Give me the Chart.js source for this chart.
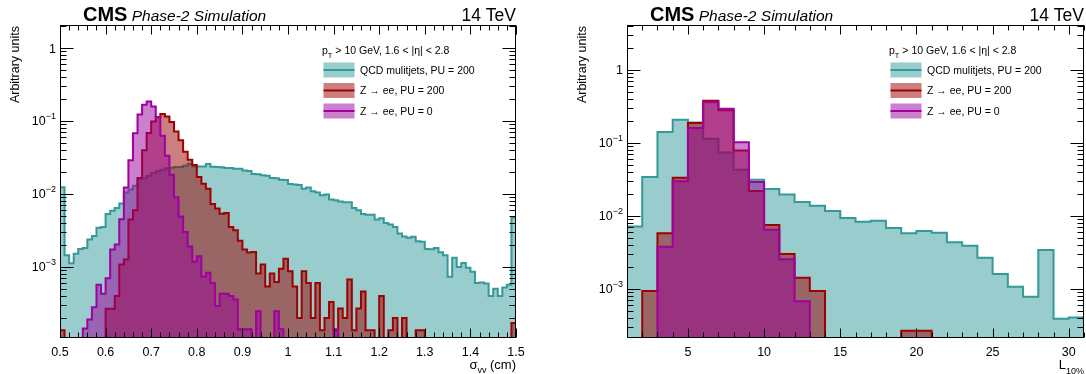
<!DOCTYPE html>
<html>
<head>
<meta charset="utf-8">
<script src="https://cdn.jsdelivr.net/npm/chart.js@4.4.1/dist/chart.umd.min.js"></script>
<style>
  html, body { margin: 0; padding: 0; background: #fff; }
  #wrap { position: relative; width: 1086px; height: 374px; }
  canvas { position: absolute; top: 0; }
</style>
</head>
<body>
<div id="wrap">
  <canvas id="sigmaChart" width="543" height="374" style="left:0"></canvas>
  <canvas id="l10Chart" width="543" height="374" style="left:543px"></canvas>
</div>
<script>
// sigma_vv: 100 bins from 0.5 to 1.5 cm
const sigmaRange = [0.5, 1.5];
const sigmaQCD = [
  0.0124, 0.00144, 0.00112, 0.00152, 0.00176, 0.00182, 0.00237, 0.00265, 0.00345, 0.00353,
  0.0053, 0.0059, 0.0064, 0.0074, 0.0105, 0.0115, 0.013, 0.016, 0.0166, 0.0178,
  0.0194, 0.0204, 0.0215, 0.0225, 0.0228, 0.0234, 0.0234, 0.0244, 0.026, 0.0238,
  0.0238, 0.0238, 0.0258, 0.0236, 0.0234, 0.0232, 0.0227, 0.0227, 0.0222, 0.0222,
  0.021, 0.0207, 0.0188, 0.0186, 0.018, 0.0177, 0.0166, 0.0164, 0.0157, 0.0155,
  0.0137, 0.0135, 0.0133, 0.0118, 0.0123, 0.0109, 0.0105, 0.0096, 0.0098, 0.0084,
  0.0082, 0.0079, 0.0077, 0.0077, 0.0064, 0.006, 0.0053, 0.0052, 0.0052, 0.00445,
  0.00463, 0.004, 0.0038, 0.00353, 0.00286, 0.00262, 0.0025, 0.00258, 0.00224, 0.00221,
  0.00176, 0.00174, 0.00182, 0.00159, 0.00144, 0.00073, 0.00133, 0.001, 0.00113, 0.00097,
  0.00086, 0.0006, 0.00061, 0.00059, 0.0004, 0.0005, 0.0004, 0.00052, 0.00057, 0.0047
];
const sigmaZee200 = [
  0.000135, 0, 0, 0, 0, 0, 0, 0, 0, 0,
  0.000266, 0.000266, 0.0004, 0.00108, 0.00126, 0.00445, 0.006, 0.0166, 0.0396, 0.0684,
  0.0988, 0.1135, 0.125, 0.1156, 0.0968, 0.072, 0.0545, 0.038, 0.0295, 0.025,
  0.0171, 0.0138, 0.0118, 0.0073, 0.0063, 0.00537, 0.0055, 0.00353, 0.00317, 0.00229,
  0.00173, 0.00158, 0.0016, 0.00081, 0.00108, 0.00054, 0.00081, 0.00062, 0.00094, 0.00129,
  0.00087, 0.00054, 0.0002, 0.00087, 0.0006, 0.0002, 0.0006, 0.000135, 0.0002, 0.00033,
  0.000135, 0.00027, 0.0002, 0.00067, 0.000135, 0.00027, 0.00046, 0.000135, 0.000135, 0,
  0.0004, 0, 0.000135, 0.0002, 0, 0.0002, 0, 0, 0.000135, 0.000135,
  0, 0, 0, 0, 0, 0, 0, 0, 0, 0,
  0, 0, 0, 0, 0, 0, 0, 0, 0, 0.00017
];
const sigmaZee0 = [
  0, 0, 0, 0, 0, 0.000143, 0.00019, 0.00028, 0.00057, 0.00043,
  0.0007, 0.00173, 0.00202, 0.0045, 0.0123, 0.029, 0.068, 0.123, 0.167, 0.185,
  0.158, 0.113, 0.063, 0.0335, 0.0184, 0.009, 0.0049, 0.003, 0.0019, 0.00118,
  0.0014, 0.00074, 0.00083, 0.0006, 0.00029, 0.00043, 0.00043, 0.0004, 0.000356, 0.00014,
  0.00014, 0.00014, 0, 0.000246, 0, 0, 0, 0.000246, 0.00014, 0,
  0, 0, 0, 0, 0, 0, 0, 0, 0, 0,
  0.00014, 0, 0, 0, 0, 0, 0, 0, 0, 0,
  0, 0, 0, 0, 0, 0, 0, 0, 0, 0,
  0, 0, 0, 0, 0, 0, 0, 0, 0, 0,
  0, 0, 0, 0, 0, 0, 0, 0, 0, 0
];
const sigmaTicks = [0.5, 0.6, 0.7, 0.8, 0.9, 1, 1.1, 1.2, 1.3, 1.4, 1.5];
const sigmaTickLabels = ['0.5', '0.6', '0.7', '0.8', '0.9', '1', '1.1', '1.2', '1.3', '1.4', '1.5'];

// L_10%: 30 bins from 1 to 31
const l10Range = [1, 31];
const l10QCD = [
  0.0072, 0.0342, 0.1415, 0.208, 0.191, 0.1146, 0.0743, 0.043, 0.0314, 0.0234,
  0.0197, 0.01556, 0.01384, 0.0117, 0.0094, 0.00836, 0.00863, 0.00685, 0.00578, 0.00623,
  0.0059, 0.00435, 0.00392, 0.00268, 0.0016, 0.00107, 0.000785, 0.00342, 0.000392, 0.000408
];
const l10Zee200 = [
  0, 0.00094, 0.00578, 0.0335, 0.188, 0.38, 0.28, 0.079, 0.022, 0.00753,
  0.00302, 0.00142, 0.00094, 0, 0, 0, 0, 0, 0.000268, 0.000268,
  0, 0, 0, 0, 0, 0, 0, 0, 0, 0
];
const l10Zee0 = [
  0, 0, 0.0038, 0.0298, 0.16, 0.36, 0.295, 0.102, 0.0292, 0.0065,
  0.00255, 0.00068, 0, 0, 0, 0, 0, 0, 0, 0,
  0, 0, 0, 0, 0, 0, 0, 0, 0, 0
];
const l10Ticks = [5, 10, 15, 20, 25, 30];
const l10TickLabels = ['5', '10', '15', '20', '25', '30'];

const yTicks = [1, 0.1, 0.01, 0.001];
const yTickLabels = [['1', ''], ['10', '\u22121'], ['10', '\u22122'], ['10', '\u22123']];

const seriesNames = ['QCD mulitjets, PU = 200', 'Z \u2192 ee, PU = 200', 'Z \u2192 ee, PU = 0'];
const TEAL = { line: '#339999', fill: 'rgba(51,153,153,0.5)' };
const RED = { line: '#a00000', fill: 'rgba(153,0,0,0.5)' };
const MAG = { line: '#a000a0', fill: 'rgba(153,0,153,0.5)' };
const FONT = '"Liberation Sans", Arial, Helvetica, sans-serif';

// bin contents -> step points at the lower bin edges (+ closing edge)
function histPoints(range, values, floor) {
  const w = (range[1] - range[0]) / values.length;
  const pts = values.map((v, i) => ({ x: range[0] + i * w, y: v > 0 ? v : floor }));
  pts.push({ x: range[1], y: pts[pts.length - 1].y });
  return pts;
}

function drawRich(ctx, parts, x, y, align) {
  let total = 0;
  parts.forEach(p => { ctx.font = p.font; p.w = ctx.measureText(p.t).width; total += p.w; });
  let cx = align === 'right' ? x - total : x;
  ctx.textAlign = 'left';
  parts.forEach(p => { ctx.font = p.font; ctx.fillText(p.t, cx, y + (p.dy || 0)); cx += p.w; });
}

const decor = {
  id: 'decor',
  afterDraw(chart, args, o) {
    const { ctx, chartArea: a, scales: { x, y } } = chart;
    const L = Math.round(a.left) + 0.5, R = Math.round(a.right) - 0.5;
    const T = Math.round(a.top) + 0.5, B = Math.round(a.bottom) - 0.5;
    ctx.save();
    ctx.strokeStyle = '#000';
    ctx.lineWidth = 1;
    ctx.beginPath();
    // x ticks, bottom and top
    const n = Math.round((o.xMax - o.xMin) / o.xMinor);
    for (let i = 0; i <= n; i++) {
      const v = o.xMin + i * o.xMinor;
      const r = v / o.xMajor;
      const len = Math.abs(r - Math.round(r)) < 1e-6 ? 9 : 5;
      const px = Math.round(x.getPixelForValue(v)) + 0.5;
      ctx.moveTo(px, B); ctx.lineTo(px, B - len);
      ctx.moveTo(px, T); ctx.lineTo(px, T + len);
    }
    // log y ticks, left and right
    for (let e = -5; e <= 1; e++) {
      for (let m = 1; m <= 9; m++) {
        const v = m * Math.pow(10, e);
        if (v < y.min || v > y.max) continue;
        const py = Math.round(y.getPixelForValue(v)) + 0.5;
        const len = m === 1 ? 13 : 6;
        ctx.moveTo(L, py); ctx.lineTo(L + len, py);
        ctx.moveTo(R, py); ctx.lineTo(R - len, py);
      }
    }
    ctx.stroke();
    ctx.strokeRect(L, T, R - L, B - T);

    ctx.fillStyle = '#000';
    // x tick labels
    ctx.font = '12.5px ' + FONT;
    ctx.textAlign = 'center';
    o.xTicks.forEach((v, i) => ctx.fillText(o.xLabels[i], x.getPixelForValue(v), 356));
    // y tick labels
    yTicks.forEach((v, i) => {
      const py = y.getPixelForValue(v) + 4.5;
      const [base, ex] = yTickLabels[i];
      const parts = [{ t: base, font: '12.5px ' + FONT }];
      if (ex) parts.push({ t: ex, font: '9px ' + FONT, dy: -6 });
      drawRich(ctx, parts, a.left - 4, py, 'right');
    });
    // x title
    drawRich(ctx, o.xTitle, a.right, 369, 'right');
    // y title
    ctx.save();
    ctx.translate(a.left - 44, a.top + 1);
    ctx.rotate(-Math.PI / 2);
    ctx.font = '12.5px ' + FONT;
    ctx.textAlign = 'right';
    ctx.textBaseline = 'middle';
    ctx.fillText('Arbitrary units', 0, 0);
    ctx.restore();
    // header
    drawRich(ctx, [
      { t: 'CMS', font: 'bold 20px ' + FONT },
      { t: ' Phase-2 Simulation', font: 'italic 15.5px ' + FONT }
    ], a.left + 23, 21, 'left');
    ctx.font = '17.5px ' + FONT;
    ctx.textAlign = 'right';
    ctx.fillText('14 TeV', a.right, 21);
    // legend
    const lx = a.left + 262;
    drawRich(ctx, [
      { t: 'p', font: '10.5px ' + FONT },
      { t: 'T', font: '7.5px ' + FONT, dy: 4 },
      { t: ' > 10 GeV, 1.6 < |\u03b7| < 2.8', font: '10.5px ' + FONT }
    ], lx, 53.5, 'left');
    const legendY = [70, 90.5, 111];
    [TEAL, RED, MAG].forEach((c, k) => {
      const yc = legendY[k];
      ctx.fillStyle = c.fill;
      ctx.fillRect(lx + 1.5, yc - 7.5, 31, 15);
      ctx.strokeStyle = c.line;
      ctx.lineWidth = 2;
      ctx.beginPath();
      ctx.moveTo(lx + 1.5, yc); ctx.lineTo(lx + 32.5, yc);
      ctx.stroke();
      ctx.fillStyle = '#000';
      ctx.font = '10.5px ' + FONT;
      ctx.textAlign = 'left';
      ctx.fillText(seriesNames[k], lx + 38, yc + 3.8);
    });
    ctx.restore();
  }
};

function makeChart(id, cfg) {
  const ds = (k, values, c, order) => ({
    label: seriesNames[k],
    data: histPoints(cfg.range, values, cfg.yMin),
    stepped: 'before',
    fill: 'start',
    borderColor: c.line,
    backgroundColor: c.fill,
    borderWidth: 2,
    pointRadius: 0,
    order: order
  });
  return new Chart(document.getElementById(id), {
    type: 'line',
    data: {
      datasets: [
        ds(0, cfg.qcd, TEAL, 2),
        ds(1, cfg.zee200, RED, 1),
        ds(2, cfg.zee0, MAG, 0)
      ]
    },
    options: {
      responsive: false,
      animation: false,
      devicePixelRatio: 1,
      events: [],
      layout: { padding: cfg.padding },
      scales: {
        x: { type: 'linear', min: cfg.range[0], max: cfg.range[1], display: false },
        y: { type: 'logarithmic', min: cfg.yMin, max: cfg.yMax, display: false }
      },
      plugins: {
        legend: { display: false },
        tooltip: { enabled: false },
        decor: {
          xMin: cfg.range[0], xMax: cfg.range[1], xMinor: cfg.xMinor, xMajor: cfg.xMajor,
          xTicks: cfg.ticks, xLabels: cfg.labels, xTitle: cfg.xTitle
        }
      }
    },
    plugins: [decor]
  });
}

makeChart('sigmaChart', {
  range: sigmaRange, qcd: sigmaQCD, zee200: sigmaZee200, zee0: sigmaZee0,
  yMin: 1.06e-4, yMax: 2.07,
  padding: { left: 60, right: 27, top: 25, bottom: 36 },
  xMinor: 0.02, xMajor: 0.1, ticks: sigmaTicks, labels: sigmaTickLabels,
  xTitle: [
    { t: '\u03c3', font: '13px ' + FONT },
    { t: 'vv', font: '9px ' + FONT, dy: 3.5 },
    { t: ' (cm)', font: '13px ' + FONT }
  ]
});

makeChart('l10Chart', {
  range: l10Range, qcd: l10QCD, zee200: l10Zee200, zee0: l10Zee0,
  yMin: 2.13e-4, yMax: 4.13,
  padding: { left: 84, right: 2, top: 25, bottom: 36 },
  xMinor: 1, xMajor: 5, ticks: l10Ticks, labels: l10TickLabels,
  xTitle: [
    { t: 'L', font: '13px ' + FONT },
    { t: '10%', font: '9px ' + FONT, dy: 5 }
  ]
});
</script>
</body>
</html>
